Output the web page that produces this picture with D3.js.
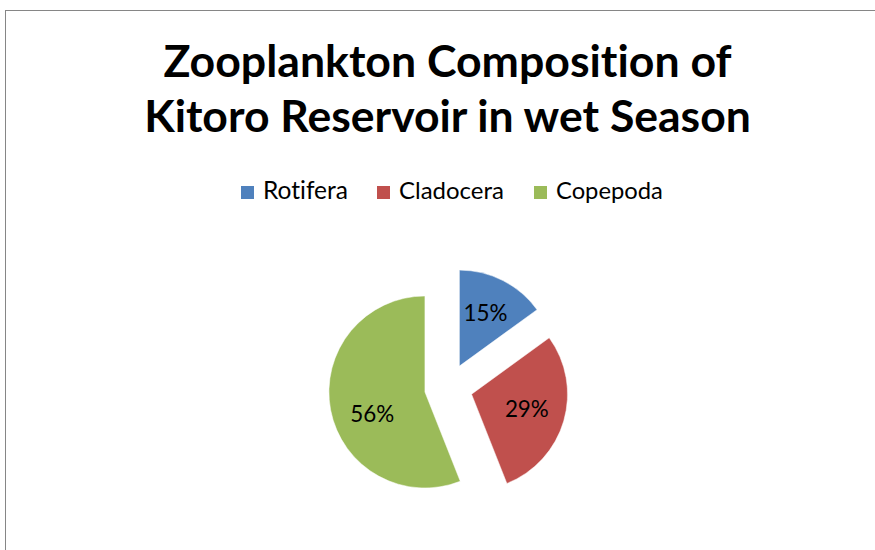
<!DOCTYPE html>
<html><head><meta charset="utf-8">
<script src="https://cdn.jsdelivr.net/npm/d3@7"></script>
<style>body{margin:0;background:#fff}svg{display:block}text{font-variant-ligatures:none;font-feature-settings:"liga" 0}</style>
</head><body>
<script>
const categories = ["Rotifera", "Cladocera", "Copepoda"];
const values = [15, 29, 56];
const colors = ["#4F81BD", "#C0504D", "#9BBB59"];
const titleLines = ["Zooplankton Composition of", "Kitoro Reservoir in wet Season"];

const W = 875, H = 550;
const FONT = "Lato, 'Open Sans', sans-serif";
const svg = d3.select("body").append("svg").attr("width", W).attr("height", H);

// frame (extends beyond right/bottom of window)
svg.append("rect").attr("x", 5.5).attr("y", 10.5).attr("width", 900).attr("height", 600)
  .attr("fill", "#fff").attr("stroke", "#868686").attr("stroke-width", 1);

function fit(sel, target) {
  const fs = parseFloat(sel.attr("font-size"));
  const w = sel.node().getComputedTextLength();
  sel.attr("font-size", fs * target / w);
}

// title
const tTargets = [568, 607];
const tBase = [77, 132];
titleLines.forEach((t, i) => {
  const s = svg.append("text").attr("x", 447.5).attr("y", tBase[i]).attr("text-anchor", "middle")
    .attr("font-family", FONT).attr("font-weight", "bold").attr("font-size", 44).attr("fill", "#000").text(t);
  fit(s, tTargets[i]);
});

// legend
const legX = [241, 377, 534];
const legTextW = [85, 105, 107];
categories.forEach((c, i) => {
  svg.append("rect").attr("x", legX[i]).attr("y", 186).attr("width", 13).attr("height", 13).attr("fill", colors[i]);
  const s = svg.append("text").attr("x", legX[i] + 22).attr("y", 199).attr("font-family", FONT)
    .attr("font-size", 21).attr("fill", "#000").text(c);
  fit(s, legTextW[i]);
});

// pie
const cx = 448.5, cy = 387.5, r = 96, explode = 24;
const pie = d3.pie().sort(null).value(d => d)(values);
const arc = d3.arc().innerRadius(0).outerRadius(r);
const g = svg.append("g").attr("transform", `translate(${cx},${cy})`);
const labelSize = (() => {
  const t = svg.append("text").attr("font-family", FONT).attr("font-size", 20).text("15%");
  const w = t.node().getComputedTextLength(); t.remove();
  return 20 * 44 / w;
})();
pie.forEach((p, i) => {
  const mid = (p.startAngle + p.endAngle) / 2;
  const dx = Math.sin(mid) * explode, dy = -Math.cos(mid) * explode;
  const sg = g.append("g").attr("transform", `translate(${dx},${dy})`);
  sg.append("path").attr("d", arc(p)).attr("fill", colors[i]).attr("stroke", "#fff").attr("stroke-width", 0.5);
  // large slices: label angle pulled toward the lower part (best-fit placement)
  const la = (p.endAngle - p.startAngle) > Math.PI ? mid - 0.23 : mid;
  const lr = r * 0.6;
  sg.append("text").attr("x", Math.sin(la) * lr).attr("y", -Math.cos(la) * lr - 2)
    .attr("text-anchor", "middle").attr("dominant-baseline", "central")
    .attr("font-family", FONT).attr("font-size", labelSize).attr("fill", "#000")
    .text(values[i] + "%");
});
</script>
</body></html>
